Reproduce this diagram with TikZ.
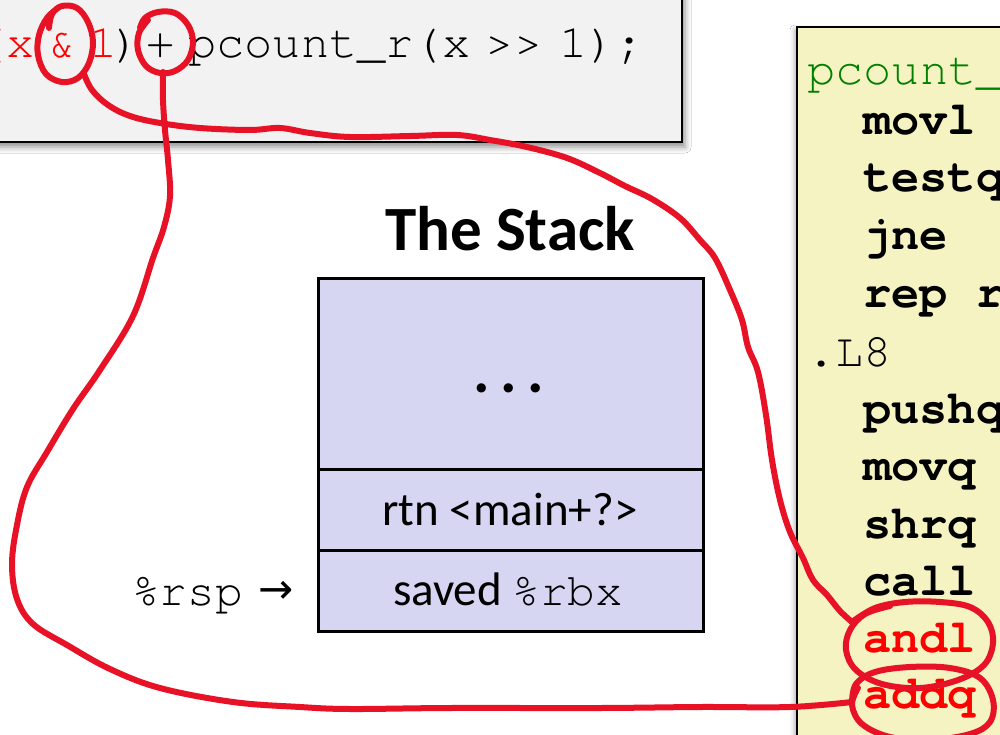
\documentclass[tikz,border=0pt]{standalone}
\usepackage{fontspec}
\setmainfont{Carlito}
\newfontfamily\cour{TeX Gyre Cursor}
\newfontfamily\arrowfont{DejaVu Sans}
\usetikzlibrary{shadows.blur}

\definecolor{codebg}{RGB}{242,242,242}
\definecolor{asmbg}{RGB}{245,243,194}
\definecolor{stackbg}{RGB}{214,214,242}
\definecolor{ink}{RGB}{232,18,38}
\definecolor{asmgreen}{RGB}{0,128,0}
\definecolor{kwred}{RGB}{255,0,0}

\begin{document}
\begin{tikzpicture}[x=1pt,y=-1pt,
  code/.style={inner sep=0pt, anchor=base west, font=\cour\fontsize{47}{56}\selectfont},
  codec/.style={code, anchor=base},
  asm/.style={code, font=\cour\bfseries\fontsize{47}{56}\selectfont},
  cell/.style={draw=black, line width=3pt, fill=stackbg, inner sep=0pt,
    minimum width=385pt, anchor=north west},
  celltext/.style={inner sep=0pt, anchor=base, font=\fontsize{47}{56}\selectfont},
  panel/.style={draw=black, line width=2.5pt},
  pen/.style={draw=ink, line width=6pt, line cap=round, line join=round}]

\clip (0,0) rectangle (1000,735);
\fill[white] (0,0) rectangle (1000,735);

% C source panel (top left)
\fill[panel, fill=codebg,
  blur shadow={shadow xshift=3pt, shadow yshift=-5pt, shadow blur radius=6pt, shadow opacity=45}]
  (-20,-20) rectangle (682,142);
\node[codec, text=kwred] (lpar) at (-6,58) {(};
\node[codec, text=kwred] (xvar) at (21,58) {x};
\node[codec, text=kwred] (amp)  at (63,58) {\&};
\node[codec, text=kwred] (one)  at (104,58) {1};
\node[codec] (rpar) at (127,58) {)};
\node[codec] (plus) at (161,58) {+};
\node[code] (call) at (188,58) {pcount\_r(x};
\node[codec] (shr) at (514,58) {>{}>};
\node[code] (tail) at (559,58) {1);};

% assembly panel (right)
\fill[panel, fill=asmbg,
  blur shadow={shadow xshift=-2pt, shadow yshift=-3pt, shadow blur radius=5pt, shadow opacity=35}]
  (797,27) rectangle (1030,760);
\node[code, text=asmgreen] (fname) at (807,85) {pcount\_};
\node[asm] (i1)  at (863,135) {movl};
\node[asm] (i2)  at (863,192) {testq};
\node[asm] (i3)  at (863,250) {jne};
\node[asm] (i4)  at (863,307) {rep r};
\node[code] (lbl) at (807,366) {.L8};
\node[asm] (i5)  at (863,423) {pushq};
\node[asm] (i6)  at (863,480) {movq};
\node[asm] (i7)  at (863,538) {shrq};
\node[asm] (i8)  at (863,595) {call};
\node[asm, text=kwred] (andl) at (863,652) {andl};
\node[asm, text=kwred] (addq) at (863,708) {addq};

% the stack
\node[inner sep=0pt, anchor=base, font=\bfseries\fontsize{63}{70}\selectfont]
  (title) at (510,251) {The Stack};
\node[cell, minimum height=191pt] (top) at (317,277) {};
\node[cell, minimum height=81pt]  (ret) at (317,468) {};
\node[cell, minimum height=81pt]  (sav) at (317,549) {};
\node[inner sep=0pt, anchor=base, font=\bfseries\fontsize{62}{70}\selectfont]
  (dots) at (509,392) {.\,.\,.};
\node[celltext] (rettext) at (510,525) {rtn <main+?>};
\node[celltext] (savtext) at (508,605)
  {saved {\cour\fontsize{46}{55}\selectfont \%rbx}};
\node[inner sep=0pt, anchor=base west, font=\cour\fontsize{46}{55}\selectfont]
  (rsp) at (132,605) {\%rsp};
\node[inner sep=0pt, anchor=base west, font=\arrowfont\fontsize{42}{50}\selectfont]
  (rsparrow) at (258,603) {→};

% hand-drawn marks: "&" ringed and led to andl
\draw[pen] plot[smooth, tension=0.6] coordinates {
  (49,28) (52,14) (62,6) (77,8) (88,22) (93,42) (89,63) (78,78) (62,82)
  (46,74) (38,55) (39,35) (47,18) (58,8)};
\draw[pen] plot[smooth, tension=0.6] coordinates {
  (84,74) (92,90) (108,105) (130,116) (160,123) (200,128) (250,130) (280,128)
  (310,133) (350,137) (410,136) (457,135) (490,140) (527,147) (567,158)
  (600,173) (625,186) (652,199) (680,218) (700,240) (715,258) (730,290)
  (742,320) (748,347) (758,372) (766,415) (772,460) (780,500) (790,532)
  (803,558) (813,580) (827,595) (840,611) (852,622)};
\draw[pen] plot[smooth, tension=0.6] coordinates {
  (852,622) (875,608) (905,602) (940,602) (970,607) (988,622) (993,643)
  (984,665) (958,680) (920,688) (882,684) (856,670) (846,650) (850,630)
  (865,614) (890,606)};

% hand-drawn marks: "+" ringed and led to addq
\draw[pen] plot[smooth, tension=0.6] coordinates {
  (140,28) (145,18) (158,12) (175,13) (188,25) (193,42) (188,60) (175,71)
  (160,73) (146,66) (138,50) (139,33) (148,20)};
\draw[pen] plot[smooth, tension=0.6] coordinates {
  (163,72) (163,100) (165,130) (168,160) (170,196) (164,227) (153,258)
  (133,316) (100,370) (73,409) (47,452) (27,487) (17,525) (12,564) (17,599)
  (33,624) (67,645) (110,669) (160,688) (233,702) (300,707) (350,709)
  (450,708) (600,708) (700,707) (790,707) (852,702)};
\draw[pen] plot[smooth, tension=0.6] coordinates {
  (852,702) (856,684) (875,672) (910,667) (950,668) (980,678) (993,700)
  (990,722) (970,734) (930,740) (890,737) (862,724) (852,705) (858,688)};
\end{tikzpicture}
\end{document}
